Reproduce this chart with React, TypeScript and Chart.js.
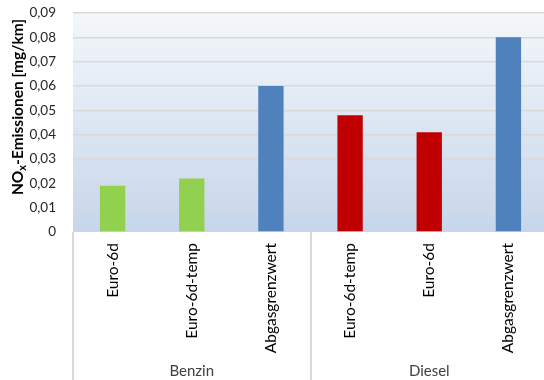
import React, { useEffect, useRef } from "react";
import { Chart, registerables } from "chart.js";

Chart.register(...registerables);

// Fahrzeugkategorien und NOx-Werte (mg/km)
const categories = ["Euro-6d", "Euro-6d-temp", "Abgasgrenzwert", "Euro-6d-temp", "Euro-6d", "Abgasgrenzwert"];
const emissions = [0.019, 0.022, 0.06, 0.048, 0.041, 0.08];
const barColors = ["#92d050", "#92d050", "#4f81bd", "#c00000", "#c00000", "#4f81bd"];
const groups = [
  { label: "Benzin", from: 0, to: 3 },
  { label: "Diesel", from: 3, to: 6 },
];
const yMin = 0;
const yMax = 0.09;
const yStep = 0.01;

const FONT = "Lato, 'Open Sans', sans-serif";
const LINE = "#d9d9d9";

const decorations = {
  id: "decorations",
  beforeDraw(chart: any) {
    const { ctx, chartArea: a } = chart;
    ctx.save();
    const g = ctx.createLinearGradient(0, a.top, 0, a.bottom);
    g.addColorStop(0, "#f4f7fb");
    g.addColorStop(1, "#c6d6ea");
    ctx.fillStyle = g;
    ctx.fillRect(a.left, a.top, a.right - a.left, a.bottom - a.top);
    ctx.restore();
  },
  afterDraw(chart: any) {
    const { ctx, chartArea: a, scales } = chart;
    const x = scales.x;
    const step = (a.right - a.left) / categories.length;
    const bottom = chart.height;
    ctx.save();
    // group separators below the axis
    ctx.strokeStyle = LINE;
    ctx.lineWidth = 2;
    const edges = new Set<number>();
    groups.forEach((gr) => {
      edges.add(gr.from);
      edges.add(gr.to);
    });
    edges.forEach((i) => {
      const px = Math.round(a.left + i * step);
      ctx.beginPath();
      ctx.moveTo(px, a.bottom);
      ctx.lineTo(px, bottom);
      ctx.stroke();
    });
    // group labels
    ctx.fillStyle = "#404040";
    ctx.font = `15px ${FONT}`;
    ctx.textAlign = "center";
    ctx.textBaseline = "middle";
    groups.forEach((gr) => {
      const cx = (x.getPixelForValue(gr.from) + x.getPixelForValue(gr.to - 1)) / 2;
      ctx.fillText(gr.label, cx, 371);
    });
    // y-axis title with subscript
    ctx.translate(18, 107);
    ctx.rotate(-Math.PI / 2);
    ctx.fillStyle = "#000";
    ctx.textBaseline = "alphabetic";
    ctx.textAlign = "left";
    const big = `bold 15.5px ${FONT}`;
    const small = `bold 11px ${FONT}`;
    const p1 = "NO";
    const p2 = "x";
    const p3 = "-Emissionen [mg/km]";
    ctx.font = big;
    const w1 = ctx.measureText(p1).width;
    const w3 = ctx.measureText(p3).width;
    ctx.font = small;
    const w2 = ctx.measureText(p2).width;
    const total = w1 + w2 + w3;
    let cx = -total / 2;
    const base = 5;
    ctx.font = big;
    ctx.fillText(p1, cx, base);
    cx += w1;
    ctx.font = small;
    ctx.fillText(p2, cx, base + 3);
    cx += w2;
    ctx.font = big;
    ctx.fillText(p3, cx, base);
    ctx.restore();
  },
};

export default function App() {
  const ref = useRef<HTMLCanvasElement>(null);

  useEffect(() => {
    document.body.style.margin = "0";
    const chart = new Chart(ref.current!, {
      type: "bar",
      data: {
        labels: categories,
        datasets: [
          {
            data: emissions,
            backgroundColor: barColors,
            borderWidth: 0,
            categoryPercentage: 1,
            barPercentage: 0.32,
          },
        ],
      },
      options: {
        animation: false,
        responsive: false,
        layout: { padding: { top: 13, right: 0, left: 0, bottom: 0 } },
        plugins: { legend: { display: false }, tooltip: { enabled: false } },
        scales: {
          x: {
            grid: { display: false, drawTicks: false },
            border: { display: false },
            ticks: {
              autoSkip: false,
              minRotation: 90,
              maxRotation: 90,
              padding: 11,
              color: "#000",
              font: { family: FONT, size: 15.5 },
            },
            afterFit(scale: any) {
              scale.height = 148;
              scale.paddingLeft = 0;
              scale.paddingRight = 0;
            },
          },
          y: {
            min: yMin,
            max: yMax,
            grid: {
              color: (c: any) => (c.tick && c.tick.value === 0 ? "rgba(0,0,0,0)" : LINE),
              lineWidth: 1.5,
              drawTicks: false,
            },
            border: { display: false },
            ticks: {
              stepSize: yStep,
              padding: 17,
              color: "#262626",
              font: { family: FONT, size: 13.5 },
              callback: (v: any) => (v === 0 ? "0" : Number(v).toFixed(2).replace(".", ",")),
            },
            afterFit(scale: any) {
              scale.width = 73;
              scale.paddingTop = 0;
              scale.paddingBottom = 0;
            },
          },
        },
      },
      plugins: [decorations],
    });
    return () => chart.destroy();
  }, []);

  // the plot runs slightly past the right edge of the visible frame
  return (
    <div style={{ position: "fixed", left: 0, top: 0, width: 544, height: 380, overflow: "hidden", background: "#fff" }}>
      <canvas ref={ref} width={548} height={380} style={{ display: "block" }} />
    </div>
  );
}
